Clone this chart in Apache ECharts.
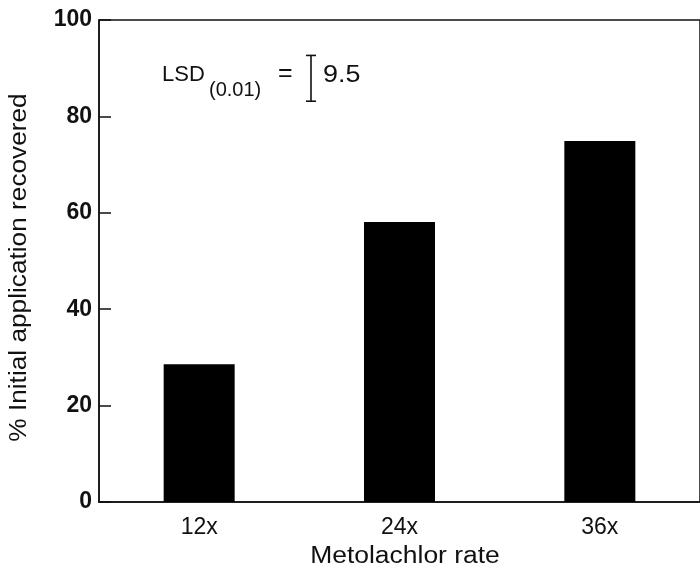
<!DOCTYPE html>
<html>
<head>
<meta charset="utf-8">
<script src="https://cdn.jsdelivr.net/npm/echarts@6/dist/echarts.min.js"></script>
<style>html,body{margin:0;padding:0;background:#fff}#c{width:700px;height:570px}</style>
</head>
<body>
<div id="c"></div>
<script>
const categories = ['12x', '24x', '36x'];
const recovered = [28.6, 58.1, 74.9];
const yTicks = [0, 20, 40, 60, 80, 100];
const lsdValue = 9.5;
const lsdCenter = 87.9;
const xTitle = 'Metolachlor rate';
const yTitle = '% Initial application recovered';

const FONT = '"Liberation Sans", Arial, Helvetica, sans-serif';
const chart = echarts.init(document.getElementById('c'));
chart.setOption({
  animation: false,
  backgroundColor: '#fff',
  grid: {left: 99, right: -3, top: 20, bottom: 68, show: true, borderColor: '#111', borderWidth: 1.5, backgroundColor: 'transparent'},
  xAxis: {
    type: 'category', data: categories,
    axisLine: {show: true, lineStyle: {color: '#111', width: 1.5}},
    axisTick: {show: false},
    axisLabel: {color: '#111', fontSize: 23, fontFamily: FONT, margin: 14}
  },
  yAxis: {
    type: 'value', min: yTicks[0], max: yTicks[yTicks.length - 1], interval: 20,
    splitLine: {show: false},
    axisLine: {show: true, lineStyle: {color: '#111', width: 1.5}},
    axisTick: {show: true, inside: true, length: 12, lineStyle: {color: '#111', width: 1.5}},
    axisLabel: {color: '#111', fontSize: 23, fontFamily: FONT, fontWeight: 'bold', margin: 7}
  },
  series: [
    {type: 'bar', data: recovered, barWidth: 71, itemStyle: {color: '#000'}},
    {
      type: 'custom', data: [[0, lsdCenter, lsdValue]],
      renderItem: function (params, api) {
        const half = api.value(2) / 2;
        const top = api.coord([0, api.value(1) + half]);
        const bot = api.coord([0, api.value(1) - half]);
        const x = 311;
        const cap = 5;
        const ls = {stroke: '#111', lineWidth: 1.6};
        return {type: 'group', children: [
          {type: 'line', shape: {x1: x, y1: top[1], x2: x, y2: bot[1]}, style: ls},
          {type: 'line', shape: {x1: x - cap, y1: top[1], x2: x + cap, y2: top[1]}, style: ls},
          {type: 'line', shape: {x1: x - cap, y1: bot[1], x2: x + cap, y2: bot[1]}, style: ls}
        ]};
      }
    }
  ],
  graphic: [
    {type: 'text', x: 162, y: 64, style: {text: 'LSD', fontSize: 22, fontFamily: FONT, fill: '#111'}},
    {type: 'text', x: 209, y: 80, style: {text: '(0.01)', fontSize: 20, fontFamily: FONT, fill: '#111'}},
    {type: 'text', x: 278, y: 62, style: {text: '=', fontSize: 25, fontFamily: FONT, fill: '#111'}},
    {type: 'text', x: 323, y: 63, scaleX: 1.12, style: {text: String(lsdValue), fontSize: 24, fontFamily: FONT, fill: '#111'}},
    {type: 'text', x: 405, y: 557, scaleX: 1.15, style: {text: xTitle, fontSize: 23, fontFamily: FONT, fill: '#111', textAlign: 'center', textVerticalAlign: 'middle'}},
    {type: 'text', x: 20, y: 267.5, rotation: Math.PI / 2, scaleX: 1.14, style: {text: yTitle, fontSize: 23, fontFamily: FONT, fill: '#111', textAlign: 'center', textVerticalAlign: 'middle'}}
  ]
});
</script>
</body>
</html>
